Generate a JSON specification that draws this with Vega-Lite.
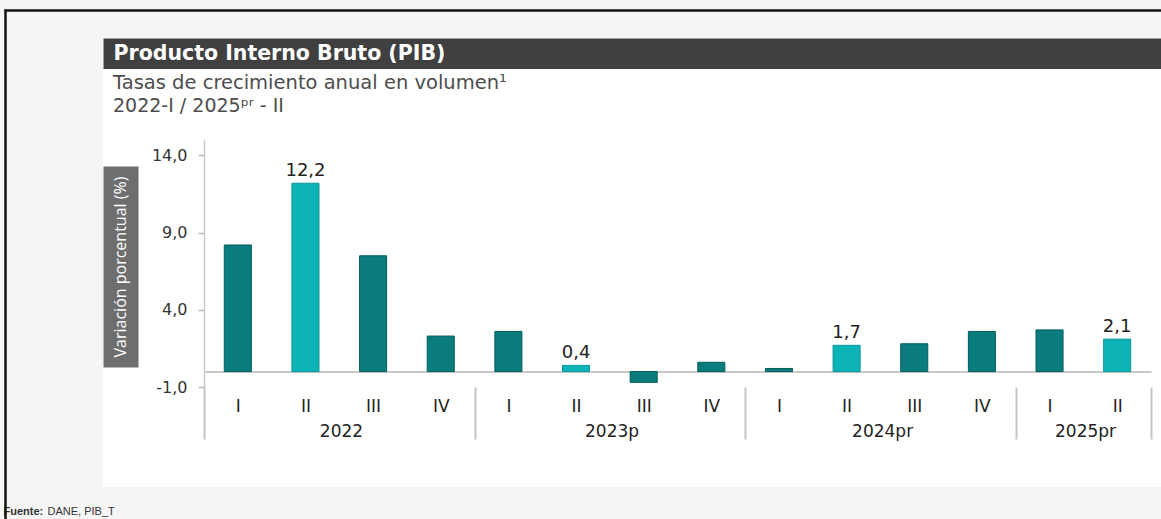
{
  "$schema": "https://vega.github.io/schema/vega-lite/v6.json",
  "width": 1058,
  "height": 449,
  "autosize": {"type": "none"},
  "padding": {"left": 103, "top": 38, "right": 0, "bottom": 32},
  "background": "#f5f5f5",
  "config": {
    "view": {"fill": "white", "stroke": null},
    "font": "DejaVu Sans",
    "locale": {"number": {"decimal": ",", "thousands": ".", "grouping": [3], "currency": ["$", ""], "minus": "-"}},
    "axis": {"grid": false}
  },
  "title": {
    "text": "Tasas de crecimiento anual en volumen¹",
    "subtitle": "2022-I / 2025ᵖʳ - II",
    "anchor": "start",
    "frame": "group",
    "orient": "top",
    "offset": -106.5,
    "dx": 10,
    "font": "DejaVu Sans",
    "fontSize": 19.5,
    "fontWeight": "normal",
    "color": "#4d4d4d",
    "subtitleFont": "DejaVu Sans",
    "subtitleFontSize": 19,
    "subtitleColor": "#4d4d4d",
    "subtitlePadding": 3
  },
  "data": {
    "values": [
      {"periodo": "2022-I", "anio": "2022", "valor": 8.2, "destacado": "no"},
      {"periodo": "2022-II", "anio": "2022", "valor": 12.2, "destacado": "si"},
      {"periodo": "2022-III", "anio": "2022", "valor": 7.5, "destacado": "no"},
      {"periodo": "2022-IV", "anio": "2022", "valor": 2.3, "destacado": "no"},
      {"periodo": "2023-I", "anio": "2023p", "valor": 2.6, "destacado": "no"},
      {"periodo": "2023-II", "anio": "2023p", "valor": 0.4, "destacado": "si"},
      {"periodo": "2023-III", "anio": "2023p", "valor": -0.7, "destacado": "no"},
      {"periodo": "2023-IV", "anio": "2023p", "valor": 0.6, "destacado": "no"},
      {"periodo": "2024-I", "anio": "2024pr", "valor": 0.2, "destacado": "no"},
      {"periodo": "2024-II", "anio": "2024pr", "valor": 1.7, "destacado": "si"},
      {"periodo": "2024-III", "anio": "2024pr", "valor": 1.8, "destacado": "no"},
      {"periodo": "2024-IV", "anio": "2024pr", "valor": 2.6, "destacado": "no"},
      {"periodo": "2025-I", "anio": "2025pr", "valor": 2.7, "destacado": "no"},
      {"periodo": "2025-II", "anio": "2025pr", "valor": 2.1, "destacado": "si"}
    ]
  },
  "layer": [
    {
      "mark": {"type": "bar", "width": {"band": 0.4}, "strokeWidth": 1},
      "encoding": {
        "x": {
          "field": "periodo", "type": "ordinal",
          "scale": {"type": "band", "domain": ["2022-I","2022-II","2022-III","2022-IV","2023-I","2023-II","2023-III","2023-IV","2024-I","2024-II","2024-III","2024-IV","2025-I","2025-II"], "range": [101, 1048], "paddingInner": 0, "paddingOuter": 0},
          "axis": {
            "orient": "bottom", "offset": -100, "title": null, "domain": false,
            "tickBand": "extent", "tickSize": 52, "tickColor": "#c4c4c4", "tickWidth": 2,
            "tickOpacity": {"condition": {"test": "!datum.value || indexof(['2022-IV','2023-IV','2024-IV','2025-II'], datum.value) >= 0", "value": 1}, "value": 0},
            "labelExpr": "datum.value ? split(datum.value, '-')[1] : ''",
            "labelAngle": 0, "labelFont": "DejaVu Sans", "labelFontSize": 17, "labelColor": "#222222", "labelPadding": -33, "labelBaseline": "middle",
            "labelOverlap": false, "labelBound": false, "labelFlush": false
          }
        },
        "y": {
          "field": "valor", "type": "quantitative",
          "scale": {"domain": [-1, 15], "range": [349, 102], "nice": false},
          "axis": {
            "orient": "left", "offset": -101, "title": null, "values": [-1, 4, 9, 14], "format": ".1f",
            "labelFont": "DejaVu Sans", "labelFontSize": 16, "labelColor": "#333333", "labelPadding": 11,
            "tickSize": 6, "tickColor": "#bdbdbd", "tickWidth": 1.5,
            "domainColor": "#c8c8c8", "domainWidth": 1.5
          }
        },
        "color": {"field": "destacado", "type": "nominal", "scale": {"domain": ["no", "si"], "range": ["#0a7c7d", "#0db4b7"]}, "legend": null},
        "stroke": {"field": "destacado", "type": "nominal", "scale": {"domain": ["no", "si"], "range": ["#055b5c", "#0a9698"]}, "legend": null}
      }
    },
    {
      "transform": [{"filter": "datum.destacado == 'si'"}],
      "mark": {"type": "text", "baseline": "bottom", "dy": -3, "fontSize": 18, "color": "#222222", "font": "DejaVu Sans"},
      "encoding": {
        "x": {
          "field": "periodo", "type": "ordinal",
          "scale": {"type": "band", "domain": ["2022-I","2022-II","2022-III","2022-IV","2023-I","2023-II","2023-III","2023-IV","2024-I","2024-II","2024-III","2024-IV","2025-I","2025-II"], "range": [101, 1048], "paddingInner": 0, "paddingOuter": 0},
          "axis": {"orient": "bottom", "offset": -115.4, "title": null, "labels": false, "ticks": false, "domain": true, "domainColor": "#c8c8c8", "domainWidth": 2}
        },
        "y": {
          "field": "valor", "type": "quantitative",
          "scale": {"domain": [-1, 15], "range": [349, 102], "nice": false},
          "axis": {"orient": "left", "labels": false, "ticks": false, "domain": false, "title": "DANE, PIB_T", "titleAngle": 0, "titleX": -56, "titleY": 473, "titleAlign": "left", "titleBaseline": "middle", "titleFont": "Liberation Sans", "titleFontSize": 11, "titleFontWeight": "normal", "titleColor": "#333333"}
        },
        "text": {"field": "valor", "type": "quantitative", "format": ".1f"}
      }
    },
    {
      "mark": {"type": "point", "opacity": 0},
      "encoding": {
        "x": {
          "field": "periodo", "type": "ordinal",
          "scale": {"type": "band", "domain": ["2022-I","2022-II","2022-III","2022-IV","2023-I","2023-II","2023-III","2023-IV","2024-I","2024-II","2024-III","2024-IV","2025-I","2025-II"], "range": [101, 1048], "paddingInner": 0, "paddingOuter": 0},
          "axis": {
            "orient": "bottom", "offset": -100, "title": null, "domain": false, "ticks": false,
            "labelExpr": "datum.value == '2022-II' ? '2022' : datum.value == '2023-II' ? '2023p' : datum.value == '2024-II' ? '2024pr' : datum.value == '2025-I' ? '2025pr' : ''",
            "labelOffset": 36, "labelPadding": 44, "labelBaseline": "middle", "labelAngle": 0,
            "labelFont": "DejaVu Sans", "labelFontSize": 17, "labelColor": "#222222", "labelOverlap": false, "labelBound": false, "labelFlush": false
          }
        },
        "y": {
          "field": "valor", "type": "quantitative",
          "scale": {"range": [329, 128], "nice": false},
          "axis": {
            "orient": "left", "offset": -17.5, "domainWidth": 35, "domainColor": "#6e6e6e", "domainCap": "butt",
            "ticks": false, "labels": false, "title": "Variación porcentual (%)", "titleX": 0, "titleAngle": 270,
            "titleBaseline": "middle", "titleAlign": "center", "titleColor": "#ffffff", "titleFontSize": 16, "titleFontWeight": "normal", "titleFont": "Open Sans"
          }
        }
      }
    },
    {
      "mark": {"type": "point", "opacity": 0},
      "encoding": {
        "x": {
          "field": "periodo", "type": "ordinal",
          "scale": {"type": "band", "range": [0, 1058]},
          "axis": {
            "orient": "top", "offset": -15.25, "domainWidth": 30.5, "domainColor": "#404040", "domainCap": "butt",
            "ticks": false, "labels": false, "title": "Producto Interno Bruto (PIB)", "titleX": 10, "titleY": 0,
            "titleAlign": "left", "titleBaseline": "middle", "titleColor": "#ffffff", "titleFontSize": 20.5, "titleFontWeight": "bold", "titleFont": "DejaVu Sans"
          }
        },
        "y": {
          "field": "valor", "type": "quantitative",
          "axis": {"orient": "left", "offset": 0, "domain": false, "ticks": false, "labels": false, "title": "Fuente:", "titleAngle": 0, "titleX": -100, "titleY": 473, "titleAlign": "left", "titleBaseline": "middle", "titleFont": "Liberation Sans", "titleFontSize": 11, "titleFontWeight": "bold", "titleColor": "#333333"}
        }
      }
    },
    {
      "mark": {"type": "point", "opacity": 0},
      "encoding": {
        "x": {
          "field": "periodo", "type": "ordinal",
          "scale": {"type": "band", "range": [-99, 1058]},
          "axis": {"orient": "top", "offset": 28, "domainWidth": 2.5, "domainColor": "#111111", "ticks": false, "labels": false, "title": null}
        },
        "y": {
          "field": "valor", "type": "quantitative",
          "scale": {"range": [481, -29]},
          "axis": {"orient": "left", "offset": 98, "domainWidth": 2.5, "domainColor": "#111111", "ticks": false, "labels": false, "title": null}
        }
      }
    }
  ],
  "resolve": {
    "scale": {"x": "independent", "y": "independent", "color": "independent", "stroke": "independent"},
    "axis": {"x": "independent", "y": "independent"}
  }
}
